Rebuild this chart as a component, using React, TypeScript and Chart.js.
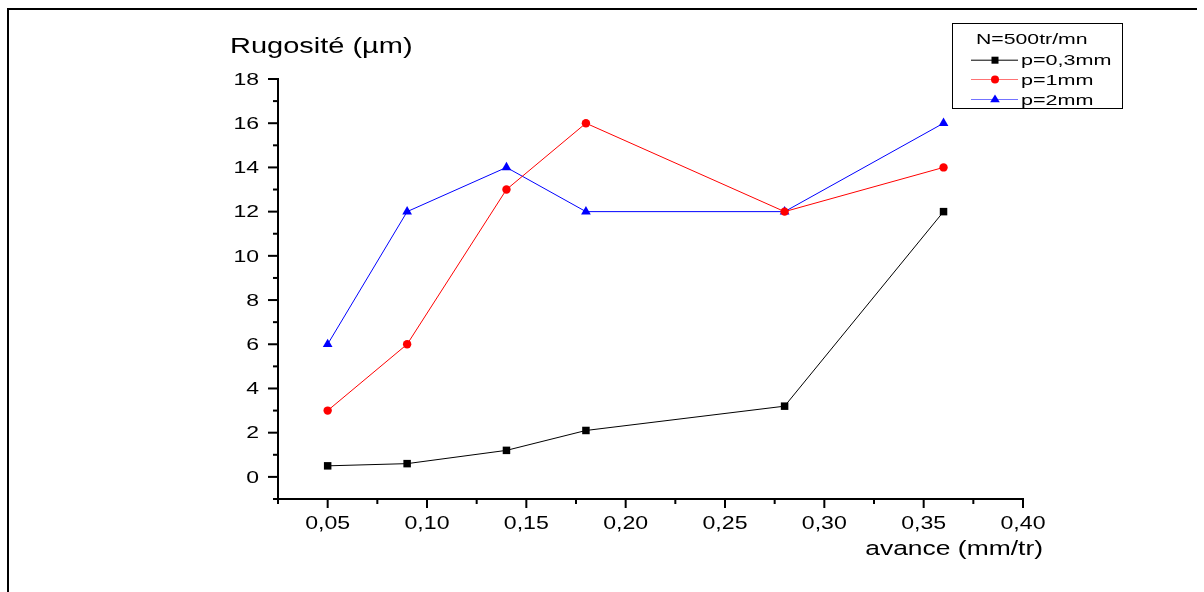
import React, { useEffect, useRef } from "react";
import { Chart, registerables } from "chart.js";

Chart.register(...registerables);

const avance = [0.05, 0.09, 0.14, 0.18, 0.28, 0.36];
const p03 = [0.5, 0.6, 1.2, 2.1, 3.2, 12];
const p1 = [3, 6, 13, 16, 12, 14];
const p2 = [6, 12, 14, 12, 12, 16];
const seriesNames = ["p=0,3mm", "p=1mm", "p=2mm"];
const legendTitle = "N=500tr/mn";
const xTicks = [0.05, 0.1, 0.15, 0.2, 0.25, 0.3, 0.35, 0.4];
const xTickLabels = ["0,05", "0,10", "0,15", "0,20", "0,25", "0,30", "0,35", "0,40"];
const xMinor = [0.025, 0.075, 0.125, 0.175, 0.225, 0.275, 0.325, 0.375];
const yTicks = [0, 2, 4, 6, 8, 10, 12, 14, 16, 18];
const yMinor = [-1, 1, 3, 5, 7, 9, 11, 13, 15, 17];
const yTitle = "Rugosité (µm)";
const xTitle = "avance (mm/tr)";

const FONT = '"Liberation Sans", Arial, sans-serif';

function stext(
  ctx: CanvasRenderingContext2D,
  text: string,
  x: number,
  y: number,
  size: number,
  sx: number,
  align: CanvasTextAlign
) {
  ctx.save();
  ctx.font = `${size}px ${FONT}`;
  ctx.textAlign = align;
  ctx.textBaseline = "alphabetic";
  ctx.fillStyle = "#000";
  ctx.translate(x, y);
  ctx.scale(sx, 1);
  ctx.fillText(text, 0, 0);
  ctx.restore();
}

const axesPlugin = {
  id: "originAxes",
  afterDraw(chart: any) {
    const ctx: CanvasRenderingContext2D = chart.ctx;
    const xs = chart.scales.x;
    const ys = chart.scales.y;
    const left = xs.getPixelForValue(0.025);
    const right = xs.getPixelForValue(0.4);
    const top = ys.getPixelForValue(18);
    const bottom = ys.getPixelForValue(-1);
    ctx.save();
    ctx.fillStyle = "#000";
    // outer frame
    ctx.fillRect(7, 8, 2, 600);
    ctx.fillRect(7, 8, 1190, 2);
    // axes lines
    ctx.fillRect(left - 1, top - 1, 2, bottom - top + 2);
    ctx.fillRect(left - 1, bottom - 1, right - left + 2, 2);
    // y ticks
    yTicks.forEach((v) => {
      const y = ys.getPixelForValue(v);
      ctx.fillRect(left - 10, y - 1, 10, 2);
      stext(ctx, String(v), left - 19, y + 5.8, 16.2, 1.42, "right");
    });
    yMinor.forEach((v) => {
      const y = ys.getPixelForValue(v);
      ctx.fillRect(left - 5, y - 1, 5, 2);
    });
    // x ticks
    xTicks.forEach((v, i) => {
      const x = xs.getPixelForValue(v);
      ctx.fillRect(x - 1, bottom, 2, 9);
      stext(ctx, xTickLabels[i], x, 528.5, 18.5, 1.25, "center");
    });
    xMinor.forEach((v) => {
      const x = xs.getPixelForValue(v);
      ctx.fillRect(x - 1, bottom, 2, 5);
    });
    // titles
    stext(ctx, yTitle, 230, 52.5, 21.8, 1.33, "left");
    stext(ctx, xTitle, 1043, 555, 20.5, 1.29, "right");

    // legend
    ctx.strokeStyle = "#000";
    ctx.lineWidth = 1;
    ctx.strokeRect(952.5, 23.5, 170, 85);
    stext(ctx, legendTitle, 976, 44, 15.4, 1.38, "left");
    const rows = [59.7, 79, 99];
    const lineCols = ["#000000", "rgba(255,0,0,0.55)", "rgba(0,0,255,0.55)"];
    const markCols = ["#000000", "#ff0000", "#0000ff"];
    rows.forEach((ry, i) => {
      ctx.strokeStyle = lineCols[i];
      ctx.lineWidth = 1;
      ctx.beginPath();
      ctx.moveTo(971, ry + 0.5);
      ctx.lineTo(1018, ry + 0.5);
      ctx.stroke();
      ctx.fillStyle = markCols[i];
      const mx = 995;
      const my = ry + 0.5;
      if (i === 0) {
        ctx.fillRect(mx - 3.5, my - 3.5, 7, 7);
      } else if (i === 1) {
        ctx.beginPath();
        ctx.arc(mx, my, 4, 0, Math.PI * 2);
        ctx.fill();
      } else {
        ctx.beginPath();
        ctx.moveTo(mx, my - 5);
        ctx.lineTo(mx + 4.8, my + 2.7);
        ctx.lineTo(mx - 4.8, my + 2.7);
        ctx.closePath();
        ctx.fill();
      }
      stext(ctx, seriesNames[i], 1021, ry + 5.5, 15.2, 1.42, "left");
    });
    ctx.restore();
  },
};

export default function App() {
  const ref = useRef<HTMLCanvasElement | null>(null);
  useEffect(() => {
    if (!ref.current) return;
    const mk = (vals: number[]) => avance.map((x, i) => ({ x, y: vals[i] }));
    const chart = new Chart(ref.current, {
      type: "scatter",
      data: {
        datasets: [
          {
            label: seriesNames[0],
            data: mk(p03),
            showLine: true,
            borderColor: "#000000",
            backgroundColor: "#000000",
            borderWidth: 1,
            pointStyle: "rect",
            pointRadius: 5.3,
            pointBorderWidth: 0,
          },
          {
            label: seriesNames[1],
            data: mk(p1),
            showLine: true,
            borderColor: "#ff0000",
            backgroundColor: "#ff0000",
            borderWidth: 1,
            pointStyle: "circle",
            pointRadius: 4.2,
            pointBorderWidth: 0,
          },
          {
            label: seriesNames[2],
            data: mk(p2),
            showLine: true,
            borderColor: "#0000ff",
            backgroundColor: "#0000ff",
            borderWidth: 1,
            pointStyle: "triangle",
            pointRadius: 5.6,
            pointBorderWidth: 0,
          },
        ],
      },
      options: {
        animation: false,
        responsive: false,
        maintainAspectRatio: false,
        devicePixelRatio: 1,
        layout: { padding: { left: 278, top: 79, right: 181, bottom: 93 } },
        scales: {
          x: { type: "linear", min: 0.025, max: 0.4, display: false },
          y: { type: "linear", min: -1, max: 18, display: false },
        },
        plugins: {
          legend: { display: false },
          tooltip: { enabled: false },
          title: { display: false },
        },
      },
      plugins: [axesPlugin],
    });
    return () => chart.destroy();
  }, []);
  return (
    <div
      style={{
        position: "fixed",
        left: 0,
        top: 0,
        width: 1204,
        height: 592,
        background: "#fff",
      }}
    >
      <canvas ref={ref} width={1204} height={592} style={{ width: 1204, height: 592, display: "block" }} />
    </div>
  );
}
